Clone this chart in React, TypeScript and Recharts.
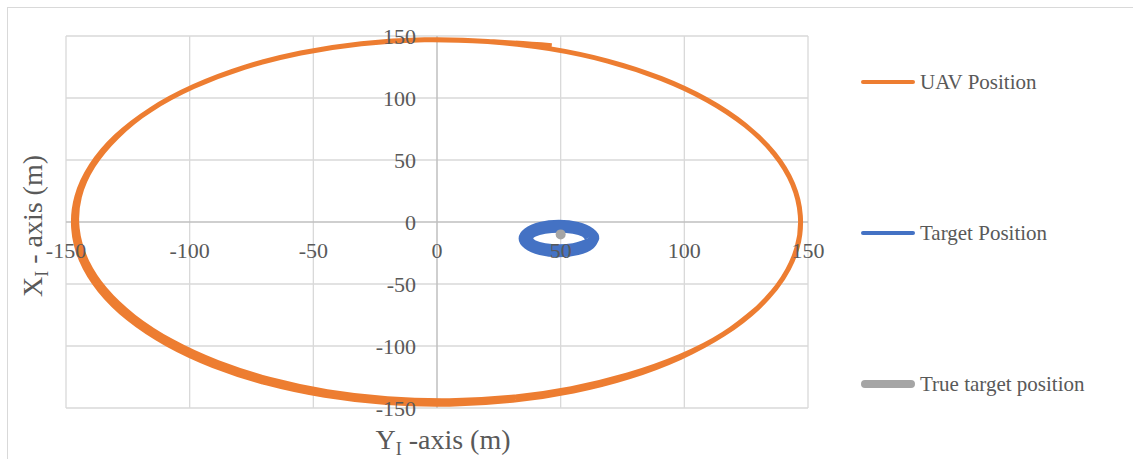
import {
  ScatterChart,
  Scatter,
  XAxis,
  YAxis,
  ReferenceLine,
  ReferenceDot,
  Legend,
} from "recharts";

// series names, tick values and the points
const seriesNames = ["UAV Position", "Target Position", "True target position"];
const xTicks = [-150, -100, -50, 0, 50, 100, 150];
const yTicks = [-150, -100, -50, 0, 50, 100, 150];

// UAV orbit (Y_I, X_I) in metres: one full turn, then a slightly tighter pass over the left / bottom side
const uavPath: [number, number][] = [
  [46.4, 142.2],
  [20.5, 145.6], [-5.1, 146.9], [-30.6, 143.8], [-55.1, 136.3], [-77.9, 124.7],
  [-98.4, 109.2], [-115.8, 90.5], [-129.8, 69.0], [-139.8, 45.4], [-145.6, 20.5],
  [-146.9, -5.1], [-143.8, -30.6], [-136.3, -55.1], [-124.7, -77.9], [-109.2, -98.4],
  [-90.5, -115.8], [-69.0, -129.8], [-45.4, -139.8], [-20.5, -145.6], [5.1, -146.9],
  [30.6, -143.8], [55.1, -136.3], [77.9, -124.7], [98.4, -109.2], [115.8, -90.5],
  [129.8, -69.0], [139.8, -45.4], [145.6, -20.5], [146.9, 5.1], [143.8, 30.6],
  [136.3, 55.1], [124.7, 77.9], [109.2, 98.4], [90.5, 115.8], [69.0, 129.8],
  [45.4, 139.8], [20.5, 145.6], [-5.1, 146.9], [-30.6, 143.8], [-55.1, 136.3],
  [-77.9, 124.7], [-98.4, 109.2], [-115.8, 90.5],
  [-129.3, 68.8], [-139.1, 45.2], [-144.6, 20.3], [-145.5, -5.1], [-142.0, -30.2],
  [-134.3, -54.2], [-122.5, -76.5], [-107.1, -96.4], [-88.6, -113.4], [-67.5, -127.0],
  [-44.4, -136.8], [-20.0, -142.5], [5.0, -144.1], [30.1, -141.4], [54.3, -134.4],
  [77.1, -123.4], [97.9, -108.8], [115.8, -90.5], [129.8, -69.0],
];

// estimated target position (noisy ring)
const targetPath: [number, number][] = [
  [60.6, -13.3], [59.1, -10.1], [55.0, -7.7], [49.3, -6.8], [43.7, -7.7], [39.5, -10.1],
  [38.0, -13.3], [39.5, -16.5], [43.7, -18.9], [49.3, -19.8], [55.0, -18.9], [59.1, -16.5],
  [62.2, -13.3], [60.5, -8.9], [55.8, -5.6], [49.3, -4.4], [42.9, -5.6], [38.1, -8.9],
  [36.4, -13.3], [38.1, -17.8], [42.9, -21.0], [49.3, -22.2], [55.8, -21.0], [60.5, -17.8],
  [63.9, -13.3], [61.9, -7.7], [56.6, -3.5], [49.3, -2.0], [42.0, -3.5], [36.7, -7.7],
  [34.7, -13.3], [36.7, -19.0], [42.0, -23.1], [49.3, -24.6], [56.6, -23.1], [61.9, -19.0],
  [64.7, -13.3], [62.6, -6.7], [57.0, -1.8], [49.3, 0.0], [41.6, -1.8], [36.0, -6.7],
  [33.9, -13.3], [36.0, -19.9], [41.6, -24.8], [49.3, -26.6], [57.0, -24.8], [62.6, -19.9],
  [64.7, -13.3],
];

const truePath: [number, number][] = [[50, -10]];

const toPoints = (p: [number, number][]) => p.map(([x, y]) => ({ x, y }));
const uavData = toPoints(uavPath);
const targetData = toPoints(targetPath);
const trueData = toPoints(truePath);

const FONT = '"Liberation Serif", "Times New Roman", serif';
const TEXT = "#595959";
const ORANGE = "#ED7D31";
const BLUE = "#4472C4";
const GREY = "#A5A5A5";
const GRID = "#D9D9D9";

const W = 1125;
const H = 451;

const legendStyle = [
  { color: ORANGE, width: 4, top: 74 },
  { color: BLUE, width: 4, top: 225 },
  { color: GREY, width: 8, top: 376 },
];

const renderLegend = () => (
  <div style={{ position: "relative", width: 270, height: H }}>
    {seriesNames.map((name, i) => {
      const s = legendStyle[i];
      return (
        <div
          key={name}
          style={{
            position: "absolute",
            left: 0,
            top: s.top - 15,
            height: 30,
            display: "flex",
            alignItems: "center",
          }}
        >
          <svg width={59} height={12} style={{ display: "block" }}>
            <line
              x1={s.width / 2}
              y1={6}
              x2={54 - s.width / 2}
              y2={6}
              stroke={s.color}
              strokeWidth={s.width}
              strokeLinecap="round"
            />
          </svg>
          <span style={{ fontFamily: FONT, fontSize: 21, color: TEXT, whiteSpace: "nowrap" }}>{name}</span>
        </div>
      );
    })}
  </div>
);

const noDot = () => <g />;

export default function App() {
  return (
    <div
      style={{
        position: "fixed",
        left: 7,
        top: 7,
        width: W + 1,
        height: H + 1,
        borderTop: "1px solid #D9D9D9",
        borderLeft: "1px solid #D9D9D9",
        background: "#fff",
      }}
    >
      <ScatterChart width={W} height={H} margin={{ top: 28, right: 325, bottom: 51, left: 58 }}>
        <XAxis type="number" dataKey="x" domain={[-150, 150]} ticks={xTicks} hide />
        <YAxis type="number" dataKey="y" domain={[-150, 150]} ticks={yTicks} hide />

        {/* gridlines */}
        {xTicks.filter((v) => v !== 0).map((v) => (
          <ReferenceLine key={`gx${v}`} x={v} stroke={GRID} strokeWidth={1.3} />
        ))}
        {yTicks.filter((v) => v !== 0).map((v) => (
          <ReferenceLine key={`gy${v}`} y={v} stroke={GRID} strokeWidth={1.3} />
        ))}
        {/* axes crossing at zero */}
        <ReferenceLine x={0} stroke="#BFBFBF" strokeWidth={1.5} />
        <ReferenceLine y={0} stroke="#BFBFBF" strokeWidth={1.5} />

        <Scatter
          name={seriesNames[0]}
          data={uavData}
          fill={ORANGE}
          line={{ stroke: ORANGE, strokeWidth: 5, strokeLinejoin: "round" }}
          lineType="joint"
          lineJointType="natural"
          shape={noDot}
          isAnimationActive={false}
        />
        <Scatter
          name={seriesNames[1]}
          data={targetData}
          fill={BLUE}
          line={{ stroke: BLUE, strokeWidth: 4.5, strokeLinejoin: "round" }}
          lineType="joint"
          lineJointType="natural"
          shape={noDot}
          isAnimationActive={false}
        />
        <Scatter
          name={seriesNames[2]}
          data={trueData}
          fill={GREY}
          shape={(p: any) => <circle cx={p.cx} cy={p.cy} r={5} fill={GREY} />}
          isAnimationActive={false}
        />

        {xTicks.map((v) => (
          <ReferenceDot
            key={`xt${v}`}
            x={v}
            y={0}
            r={0}
            stroke="none"
            label={{ value: String(v), position: "bottom", offset: 20, fill: TEXT, fontSize: 22, fontFamily: FONT }}
          />
        ))}
        {yTicks.map((v) => (
          <ReferenceDot
            key={`yt${v}`}
            x={0}
            y={v}
            r={0}
            stroke="none"
            label={{ value: String(v), position: "left", offset: 21, fill: TEXT, fontSize: 22, fontFamily: FONT }}
          />
        ))}

        <Legend
          layout="vertical"
          align="center"
          verticalAlign="middle"
          content={renderLegend}
          wrapperStyle={{ left: 853, top: 0, width: 270, height: H }}
        />
      </ScatterChart>

      {/* axis titles */}
      <svg
        width={W}
        height={H}
        style={{ position: "absolute", left: 0, top: 0, pointerEvents: "none" }}
      >
        <text x={435} y={441} textAnchor="middle" fill={TEXT} fontFamily={FONT} fontSize={28}>
          Y<tspan dy={6} fontSize={18}>I</tspan>
          <tspan dy={-6}> -axis (m)</tspan>
        </text>
        <text
          transform="rotate(-90, 25, 218)"
          x={25}
          y={227}
          textAnchor="middle"
          fill={TEXT}
          fontFamily={FONT}
          fontSize={28}
        >
          X<tspan dy={6} fontSize={18}>I</tspan>
          <tspan dy={-6}> - axis (m)</tspan>
        </text>
      </svg>
    </div>
  );
}
